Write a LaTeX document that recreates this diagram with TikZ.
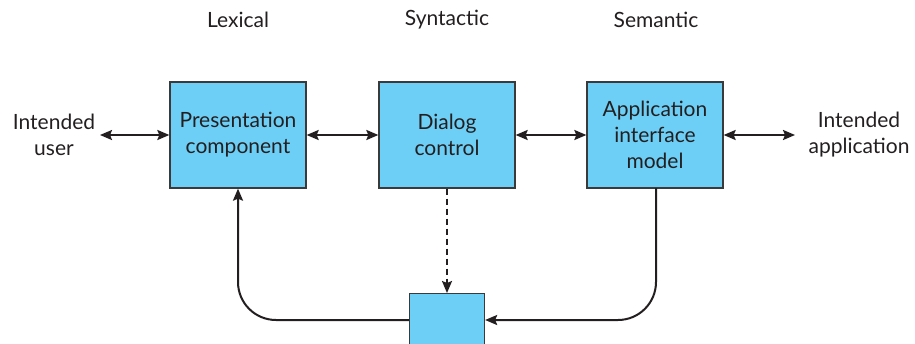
\documentclass[tikz,border=0pt]{standalone}
\usepackage{fontspec}
\setmainfont{Lato}
\usetikzlibrary{arrows.meta}
\definecolor{boxblue}{HTML}{6DCFF6}
\definecolor{ink}{HTML}{231F20}
\definecolor{edge}{HTML}{3A3A3A}
\begin{document}
\begin{tikzpicture}[x=1pt,y=-1pt,
  blockbox/.style={draw=edge,line width=1.3pt,fill=boxblue,minimum width=136pt,minimum height=106pt,inner sep=0pt,
     align=center,font=\fontsize{21}{26}\selectfont,text=ink},
  lbl/.style={font=\fontsize{21}{26}\selectfont,text=ink,align=center},
  conn/.style={draw=ink,line width=2pt},
  tip/.style={-{Stealth[length=12pt,width=10pt,inset=2pt]}},
  dtip/.style={{Stealth[length=12pt,width=10pt,inset=2pt]}-{Stealth[length=12pt,width=10pt,inset=2pt]}}]
\useasboundingbox (0,0) rectangle (915,343);
\begin{scope}
\clip (0,0) rectangle (915,343);
\node[blockbox] (pres) at (238,135) {Presentation\\component};
\node[blockbox] (dlg) at (447,135) {Dialog\\control};
\node[blockbox] (app) at (655,135) {Application\\interface\\model};
\node[draw=edge,line width=1.3pt,fill=boxblue,minimum width=75pt,minimum height=80pt,inner sep=0pt,anchor=north] (bot) at (447,293) {};
\end{scope}
\node[lbl] (lex) at (238,20) {Lexical};
\node[lbl] (syn) at (447,20) {Syntactic};
\node[lbl] (sem) at (656,20) {Semantic};
\node[lbl] (usr) at (54,135) {Intended\\user};
\node[lbl] (iapp) at (859,135) {Intended\\application};
\coordinate (ul) at (100,135);
\coordinate (ar) at (795,135);
\draw[conn,dtip] (ul) -- (pres.west);
\draw[conn,dtip] (pres.east) -- (dlg.west);
\draw[conn,dtip] (dlg.east) -- (app.west);
\draw[conn,dtip] (app.east) -- (ar);
\draw[conn,tip,dashed,dash pattern=on 6pt off 4pt] (dlg.south) -- (bot.north);
\draw[conn,tip,rounded corners=38pt] (bot.west |- 0,320) -- (238,320) -- (pres.south);
\draw[conn,tip,rounded corners=38pt] (656,188) -- (656,320) -- (bot.east |- 0,320);
\end{tikzpicture}
\end{document}
